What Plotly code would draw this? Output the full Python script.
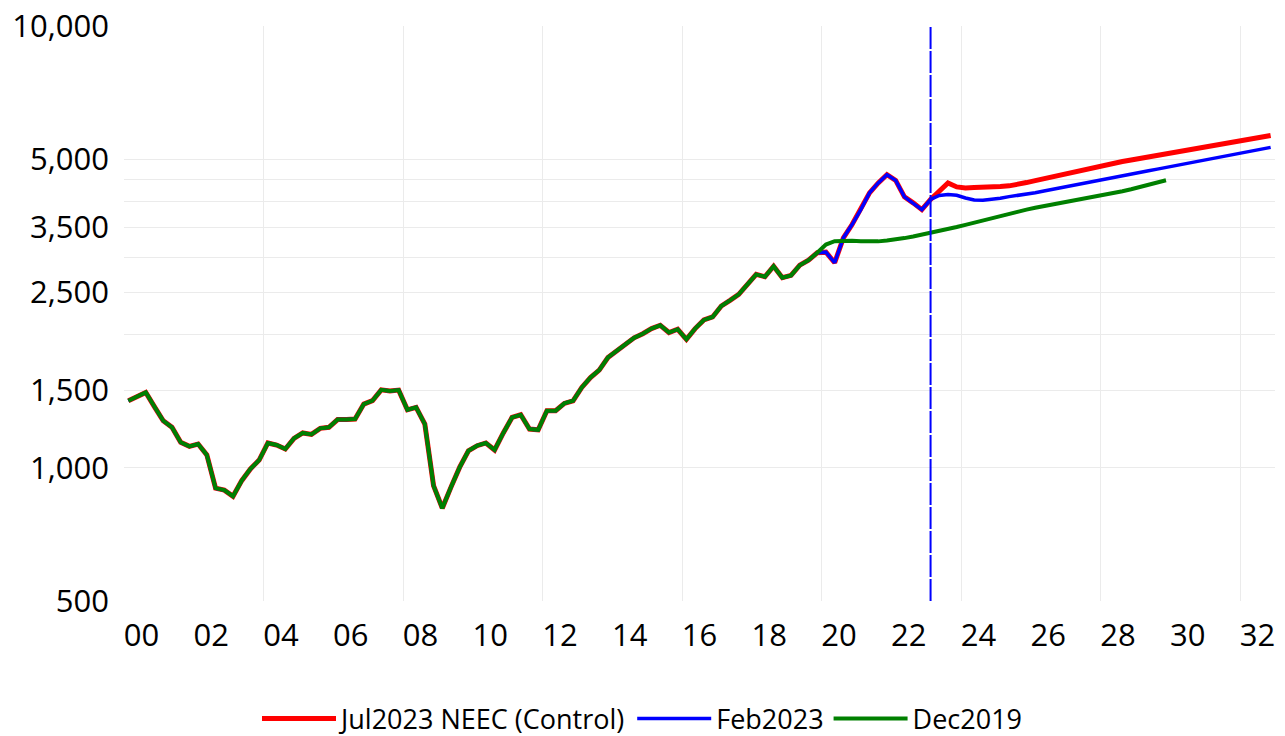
import plotly.graph_objects as go
import numpy as np

# ---------------- data (quarterly) ----------------
hist_years = list(range(2000, 2020))
hist_values = [
    1419, 1450, 1482, 1375,   # 2000
    1279, 1236, 1143, 1119,   # 2001
    1133, 1070, 900, 891,     # 2002
    863, 936, 995, 1042,      # 2003
    1139, 1127, 1104, 1167,   # 2004
    1200, 1191, 1229, 1236,   # 2005
    1287, 1288, 1290, 1395,   # 2006
    1420, 1502, 1494, 1500,   # 2007
    1354, 1371, 1257, 912,    # 2008
    811, 905, 1004, 1094,     # 2009
    1123, 1139, 1098, 1200,   # 2010
    1301, 1319, 1225, 1220,   # 2011
    1347, 1347, 1400, 1419,   # 2012
    1521, 1602, 1665, 1778,   # 2013
    1837, 1905, 1970, 2012,   # 2014
    2067, 2103, 2025, 2060,   # 2015
    1955, 2067, 2162, 2196,   # 2016
    2325, 2395, 2471, 2602,   # 2017
    2741, 2708, 2861, 2694,   # 2018
    2727, 2876, 2952, 3068,   # 2019
]
# history 2020Q1..2023Q1 shared by Jul2023 and Feb2023 vintages
recent_hist = [3078, 2913, 3317, 3555,
               3842, 4193, 4415, 4609,
               4474, 4107, 3979, 3842,
               4050]

# Jul2023 NEEC (Control) forecast 2023Q2..2032Q4
jul2023_fcst = [4227, 4415, 4324,
                4301, 4311, 4313, 4321,
                4332, 4348, 4377, 4423,
                4467, 4514, 4561, 4609,
                4661, 4710, 4760, 4804,
                4854, 4898, 4936, 4977,
                5017, 5055, 5093, 5130,
                5167, 5208, 5249, 5290,
                5337, 5381, 5426, 5471,
                5517, 5563, 5607, 5650]

# Feb2023 forecast 2023Q2..2032Q4
feb2023_fcst = [4135, 4156, 4141,
                4081, 4038, 4032, 4050,
                4076, 4111, 4135, 4159,
                4193, 4232, 4270, 4306,
                4348, 4388, 4432, 4474,
                4520, 4555, 4590, 4628,
                4669, 4705, 4744, 4784,
                4826, 4869, 4912, 4956,
                5000, 5044, 5089, 5134,
                5180, 5226, 5269, 5314]

# Dec2019 forecast 2020Q1..2029Q4
dec2019_fcst = [3203, 3259, 3271, 3266,
                3259, 3253, 3256, 3271,
                3288, 3312, 3340, 3370,
                3403, 3436, 3470, 3508,
                3549, 3592, 3634, 3678,
                3722, 3764, 3803, 3842,
                3879, 3911, 3944, 3977,
                4011, 4044, 4078, 4111,
                4150, 4187, 4228, 4272,
                4317, 4367, 4420, 4476]

forecast_line_quarter = (2023, 1)
x_tick_years = list(range(2000, 2033, 2))
x_tick_labels = [f"{y % 100:02d}" for y in x_tick_years]
x_grid_years = list(range(2004, 2033, 4))
y_tick_vals = [500, 1000, 1500, 2500, 3500, 5000, 10000]
y_tick_text = ["500", "1,000", "1,500", "2,500", "3,500", "5,000", "10,000"]
y_grid_vals = [1000, 1500, 2000, 2500, 3000, 3500, 4000, 4500, 5000, 10000]

# ---------------- build ----------------
def qpos(year, q):
    return year + (q - 0.5) / 4.0

def quarter_range(y0, q0, n):
    out = []
    y, q = y0, q0
    for _ in range(n):
        out.append(qpos(y, q))
        q += 1
        if q > 4:
            q = 1
            y += 1
    return out

red_vals = hist_values + recent_hist + jul2023_fcst
blue_vals = hist_values + recent_hist + feb2023_fcst
green_vals = hist_values + dec2019_fcst
red_x = quarter_range(2000, 1, len(red_vals))
blue_x = quarter_range(2000, 1, len(blue_vals))
green_x = quarter_range(2000, 1, len(green_vals))

fig = go.Figure()
fig.add_trace(go.Scatter(x=red_x, y=red_vals, mode="lines", name="Jul2023 NEEC (Control)",
                         line=dict(color="#FF0000", width=5)))
fig.add_trace(go.Scatter(x=blue_x, y=blue_vals, mode="lines", name="Feb2023",
                         line=dict(color="#0000FF", width=3.5)))
fig.add_trace(go.Scatter(x=green_x, y=green_vals, mode="lines", name="Dec2019",
                         line=dict(color="#008000", width=4)))

vx = qpos(*forecast_line_quarter)
fig.add_trace(go.Scatter(x=[vx, vx], y=[500, 10000], mode="lines", showlegend=False,
                         line=dict(color="#0000FF", width=2, dash="22px,2px"),
                         hoverinfo="skip"))

grid = "#EBEBEB"
fig.update_layout(
    width=1285, height=736,
    margin=dict(l=124, r=10, t=26, b=135),
    plot_bgcolor="white", paper_bgcolor="white",
    font=dict(family="Open Sans", color="black"),
    showlegend=True,
    legend=dict(orientation="h", x=0.5, xanchor="center", xref="container",
                y=1 - 719 / 736, yanchor="middle", yref="container",
                font=dict(size=27, family="Open Sans"), traceorder="normal",
                itemwidth=74),
    xaxis=dict(range=[2000, 2033], tickmode="array", automargin=False,
               tickvals=[y + 0.5 for y in x_tick_years], ticktext=x_tick_labels,
               showgrid=False, zeroline=False, showline=False, ticks="",
               tickfont=dict(size=31), ticklabelstandoff=13,
               minor=dict(tickmode="array", tickvals=x_grid_years, showgrid=True,
                          gridcolor=grid, gridwidth=1, ticks="")),
    yaxis=dict(type="log", range=[np.log10(500), 4], tickmode="array", automargin=False,
               tickvals=y_tick_vals, ticktext=y_tick_text,
               showgrid=False, zeroline=False, showline=False, ticks="",
               tickfont=dict(size=31), ticklabelstandoff=14,
               minor=dict(tickmode="array", tickvals=y_grid_vals, showgrid=True,
                          gridcolor=grid, gridwidth=1, ticks="")),
)

fig.write_html("out.html", config={"displayModeBar": False},
               post_script="document.body.style.margin='0';")
